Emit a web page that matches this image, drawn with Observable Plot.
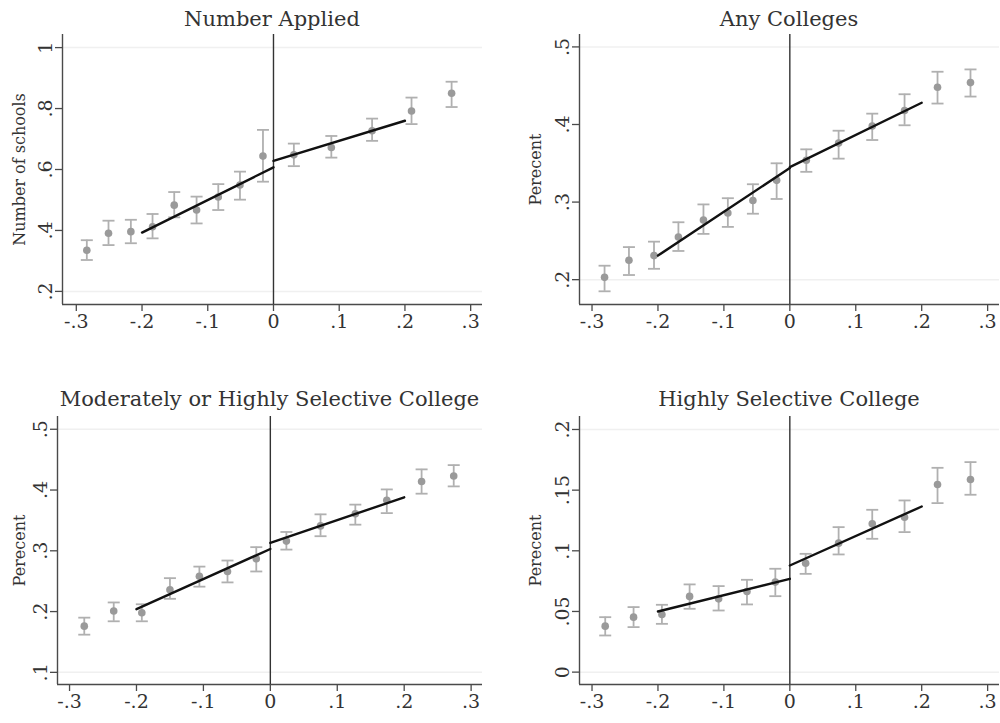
<!DOCTYPE html>
<html><head><meta charset="utf-8">
<script src="https://cdn.jsdelivr.net/npm/d3@7"></script>
<script src="https://cdn.jsdelivr.net/npm/@observablehq/plot@0.6"></script>
<style>
body{margin:0;background:#fff;width:1000px;height:723px;position:relative;overflow:hidden;font-family:"DejaVu Serif",serif}
.panel{position:absolute}
.panel svg{overflow:visible}
.title{position:absolute;text-align:center;font-size:21px;line-height:21px;color:#333;white-space:nowrap}
</style></head><body>
<script>
// ---------- data ----------
const xTicks = [-0.3, -0.2, -0.1, 0, 0.1, 0.2, 0.3];

// Panel 1: Number Applied
const p1Title = "Number Applied";
const p1YLabel = "Number of schools";
const p1YTicks = [0.2, 0.4, 0.6, 0.8, 1];
const p1X  = [-0.284, -0.251, -0.217, -0.184, -0.151, -0.117, -0.084, -0.051, -0.016, 0.031, 0.088, 0.150, 0.210, 0.271];
const p1Y  = [0.335, 0.391, 0.396, 0.412, 0.483, 0.467, 0.510, 0.549, 0.644, 0.648, 0.672, 0.727, 0.792, 0.850];
const p1Lo = [0.303, 0.352, 0.358, 0.374, 0.443, 0.423, 0.467, 0.501, 0.560, 0.611, 0.639, 0.694, 0.749, 0.805];
const p1Hi = [0.368, 0.432, 0.435, 0.454, 0.526, 0.511, 0.552, 0.593, 0.730, 0.685, 0.710, 0.767, 0.836, 0.888];
const p1FitX = [-0.2, 0, 0, 0.2];
const p1FitY = [0.393, 0.607, 0.628, 0.760];
const fitSide = ["left", "left", "right", "right"];

// Panel 2: Any Colleges
const p2Title = "Any Colleges";
const p2YLabel = "Perecent";
const p2YTicks = [0.2, 0.3, 0.4, 0.5];
const p2X  = [-0.281, -0.244, -0.206, -0.169, -0.131, -0.094, -0.056, -0.020, 0.025, 0.074, 0.125, 0.174, 0.224, 0.274];
const p2Y  = [0.203, 0.225, 0.231, 0.255, 0.277, 0.286, 0.302, 0.328, 0.354, 0.376, 0.398, 0.418, 0.448, 0.454];
const p2Lo = [0.185, 0.206, 0.214, 0.237, 0.259, 0.268, 0.285, 0.304, 0.339, 0.356, 0.380, 0.399, 0.427, 0.436];
const p2Hi = [0.218, 0.242, 0.249, 0.274, 0.297, 0.305, 0.323, 0.350, 0.368, 0.392, 0.414, 0.439, 0.468, 0.471];
const p2FitX = [-0.2, 0, 0, 0.2];
const p2FitY = [0.231, 0.344, 0.345, 0.428];

// Panel 3: Moderately or Highly Selective College
const p3Title = "Moderately or Highly Selective College";
const p3YLabel = "Perecent";
const p3YTicks = [0.1, 0.2, 0.3, 0.4, 0.5];
const p3X  = [-0.278, -0.234, -0.192, -0.150, -0.106, -0.064, -0.021, 0.024, 0.075, 0.127, 0.174, 0.226, 0.274];
const p3Y  = [0.176, 0.201, 0.198, 0.236, 0.258, 0.266, 0.287, 0.316, 0.341, 0.361, 0.383, 0.414, 0.423];
const p3Lo = [0.162, 0.184, 0.184, 0.221, 0.241, 0.248, 0.266, 0.302, 0.324, 0.343, 0.362, 0.394, 0.406];
const p3Hi = [0.190, 0.215, 0.212, 0.255, 0.274, 0.284, 0.306, 0.331, 0.360, 0.376, 0.401, 0.434, 0.441];
const p3FitX = [-0.2, 0, 0, 0.2];
const p3FitY = [0.204, 0.303, 0.313, 0.388];

// Panel 4: Highly Selective College
const p4Title = "Highly Selective College";
const p4YLabel = "Perecent";
const p4YTicks = [0, 0.05, 0.1, 0.15, 0.2];
const p4X  = [-0.280, -0.237, -0.194, -0.152, -0.108, -0.065, -0.022, 0.024, 0.074, 0.125, 0.174, 0.224, 0.274];
const p4Y  = [0.0379, 0.0453, 0.0475, 0.0624, 0.0604, 0.0665, 0.0742, 0.0898, 0.1063, 0.1223, 0.1277, 0.1547, 0.1588];
const p4Lo = [0.0302, 0.0371, 0.0398, 0.0522, 0.0508, 0.0558, 0.0626, 0.0810, 0.0970, 0.1099, 0.1154, 0.1393, 0.1462];
const p4Hi = [0.0453, 0.0536, 0.0555, 0.0723, 0.0709, 0.0761, 0.0852, 0.0975, 0.1195, 0.1338, 0.1415, 0.1684, 0.1731];
const p4FitX = [-0.2, 0, 0, 0.2];
const p4FitY = [0.050, 0.0769, 0.0879, 0.1365];

// ---------- layout ----------
const panels = [
  {title: p1Title, ylabel: p1YLabel, yTicks: p1YTicks, X: p1X, Y: p1Y, Lo: p1Lo, Hi: p1Hi, FX: p1FitX, FY: p1FitY,
   left: 0, top: 0, mL: 62, mR: 18, mT: 34, xDom: [-0.321, 0.318], yDom: [0.157, 1.043], labDx: -43, titleTop: 9},
  {title: p2Title, ylabel: p2YLabel, yTicks: p2YTicks, X: p2X, Y: p2Y, Lo: p2Lo, Hi: p2Hi, FX: p2FitX, FY: p2FitY,
   left: 500, top: 0, mL: 79, mR: 1, mT: 34, xDom: [-0.319, 0.318], yDom: [0.168, 0.516], labDx: -43.5, titleTop: 9},
  {title: p3Title, ylabel: p3YLabel, yTicks: p3YTicks, X: p3X, Y: p3Y, Lo: p3Lo, Hi: p3Hi, FX: p3FitX, FY: p3FitY,
   left: 0, top: 380, mL: 57, mR: 18, mT: 36, xDom: [-0.318, 0.317], yDom: [0.080, 0.521], labDx: -38, titleTop: 9},
  {title: p4Title, ylabel: p4YLabel, yTicks: p4YTicks, X: p4X, Y: p4Y, Lo: p4Lo, Hi: p4Hi, FX: p4FitX, FY: p4FitY,
   left: 500, top: 380, mL: 79, mR: 1, mT: 36, xDom: [-0.319, 0.318], yDom: [-0.0102, 0.2107], labDx: -44, titleTop: 9}
];

const fmt = d => d === 0 ? "0" : String(+d.toFixed(4)).replace(/^(-?)0\./, "$1.");
const capSymbol = {draw(ctx) { ctx.moveTo(-6, 0); ctx.lineTo(6, 0); }};
const H = 345, AXIS_Y = 304;

for (const p of panels) {
  const pts = p.X.map((x, i) => ({x, y: p.Y[i], lo: p.Lo[i], hi: p.Hi[i]}));
  const fit = p.FX.map((x, i) => ({x, y: p.FY[i], side: fitSide[i]}));
  const edgeTicks = [p.yTicks[0], p.yTicks[p.yTicks.length - 1]];
  const chart = Plot.plot({
    width: 500, height: H,
    marginLeft: p.mL, marginRight: p.mR, marginTop: p.mT, marginBottom: H - AXIS_Y,
    x: {domain: p.xDom, label: null},
    y: {domain: p.yDom, label: null},
    style: {fontFamily: "DejaVu Serif, serif", fontSize: "19px", color: "#333", background: "transparent", overflow: "visible"},
    marks: [
      Plot.ruleY(edgeTicks, {stroke: "#f0f0f0", strokeWidth: 1.5}),
      Plot.ruleY([p.yDom[0]], {stroke: "#4a4a4a", strokeWidth: 1.4}),
      Plot.ruleX([p.xDom[0]], {stroke: "#4a4a4a", strokeWidth: 1.4}),
      Plot.axisX({ticks: xTicks, tickFormat: fmt, tickSize: 7, tickPadding: 3, label: null, stroke: "#4a4a4a", strokeWidth: 1.3, fill: "#333"}),
      Plot.axisY({ticks: p.yTicks, tickFormat: fmt, tickSize: 7, tickPadding: 4, tickRotate: -90, label: null, stroke: "#4a4a4a", strokeWidth: 1.3, fill: "#333"}),
      Plot.text([p.ylabel], {text: d => d, frameAnchor: "left", dx: p.labDx, rotate: -90, fontSize: 16, fill: "#333", textAnchor: "middle", lineAnchor: "middle"}),
      Plot.ruleX(pts, {x: "x", y1: "lo", y2: "hi", stroke: "#b0b0b0", strokeWidth: 1.8}),
      Plot.dot(pts, {x: "x", y: "lo", symbol: capSymbol, stroke: "#b0b0b0", strokeWidth: 1.8, fill: "none"}),
      Plot.dot(pts, {x: "x", y: "hi", symbol: capSymbol, stroke: "#b0b0b0", strokeWidth: 1.8, fill: "none"}),
      Plot.dot(pts, {x: "x", y: "y", r: 3.8, fill: "#9a9a9a", stroke: "none"}),
      Plot.ruleX([0], {stroke: "#333", strokeWidth: 1.4}),
      Plot.line(fit, {x: "x", y: "y", z: "side", stroke: "#111", strokeWidth: 2.4})
    ]
  });
  const wrap = document.createElement("div");
  wrap.className = "panel";
  wrap.style.left = p.left + "px";
  wrap.style.top = p.top + "px";
  wrap.appendChild(chart);
  document.body.appendChild(wrap);

  const t = document.createElement("div");
  t.className = "title";
  t.textContent = p.title;
  t.style.left = (p.left + p.mL) + "px";
  t.style.width = (500 - p.mL - p.mR) + "px";
  t.style.top = (p.top + p.titleTop) + "px";
  document.body.appendChild(t);
}
</script>
</body></html>
